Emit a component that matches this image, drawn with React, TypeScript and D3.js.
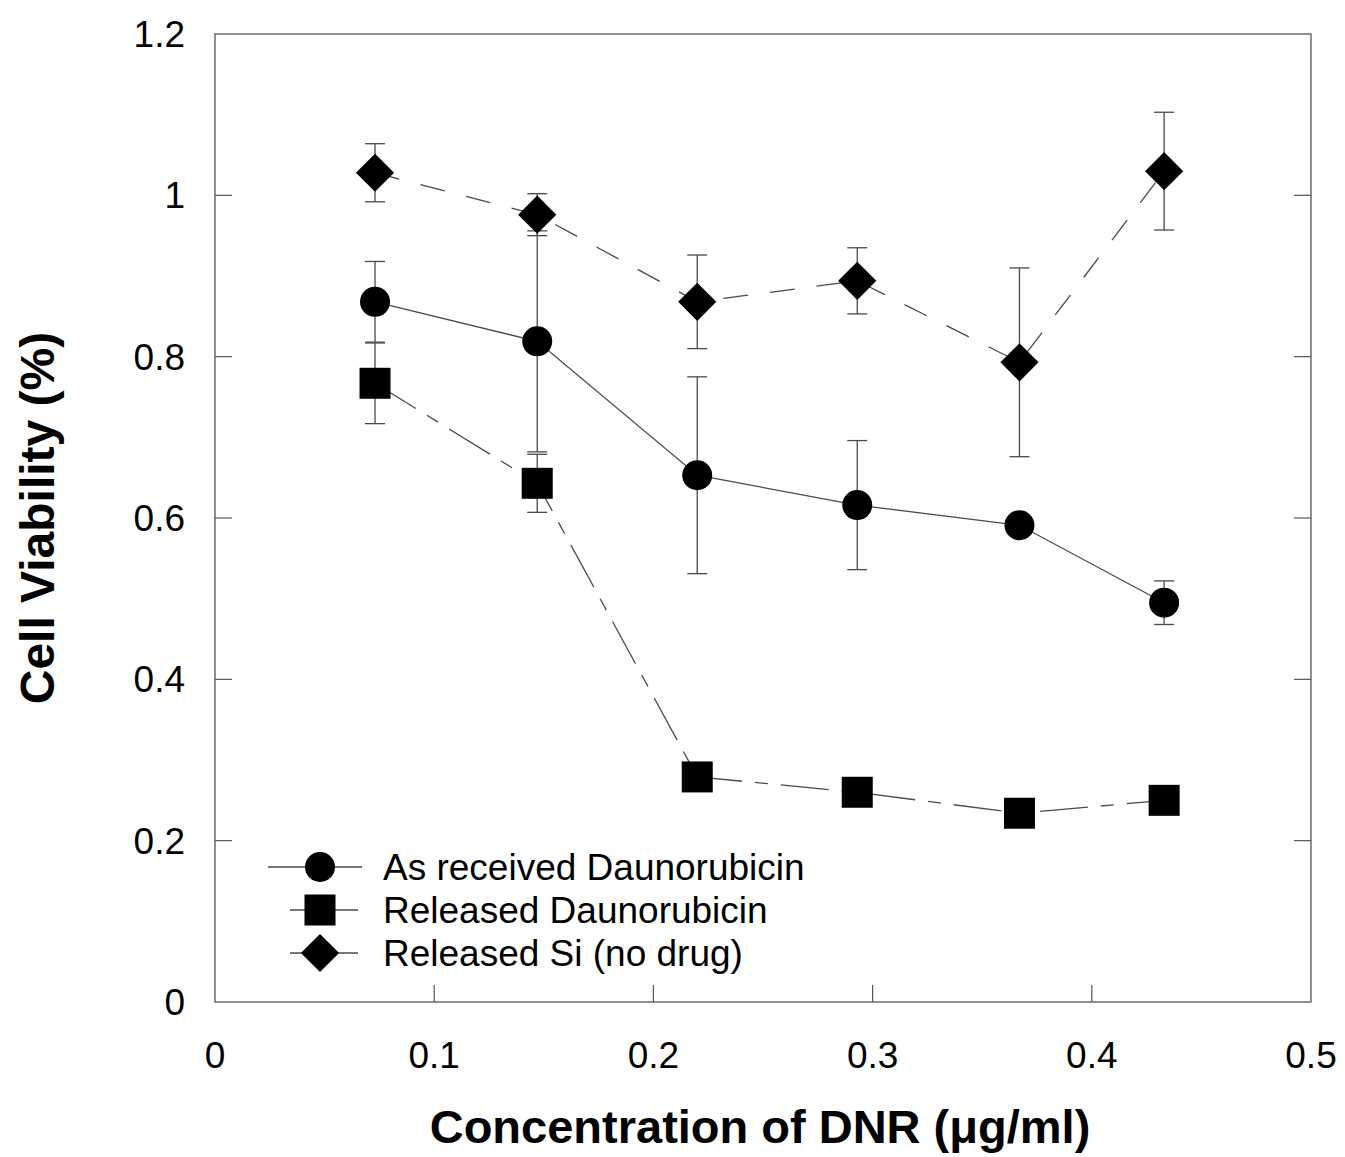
import * as d3 from "d3";
import { useEffect, useRef } from "react";

// concentrations (ug/ml)
const conc = [0.073, 0.147, 0.22, 0.293, 0.367, 0.433];

const asReceived = [0.868, 0.819, 0.653, 0.616, 0.591, 0.495];
const asReceivedErr = [0.05, 0.137, 0.122, 0.08, 0.01, 0.027];

const releasedDnr = [0.767, 0.643, 0.279, 0.26, 0.234, 0.25];
const releasedDnrErr = [0.05, 0.036, 0.01, 0.01, 0.01, 0.01];

const releasedSi = [1.028, 0.976, 0.868, 0.894, 0.793, 1.03];
const releasedSiErr = [0.036, 0.026, 0.058, 0.041, 0.117, 0.073];

const xTicks = [0, 0.1, 0.2, 0.3, 0.4, 0.5];
const yTicks = [0, 0.2, 0.4, 0.6, 0.8, 1, 1.2];

const legendLabels = ["As received Daunorubicin", "Released Daunorubicin", "Released Si (no drug)"];

function App() {
    const ref = useRef<SVGSVGElement | null>(null);

    useEffect(() => {
        document.body.style.margin = "0";

        const width = 1345,
            height = 1157;
        const margin = { left: 215, top: 34, right: 34, bottom: 155 };
        const w = width - margin.left - margin.right,
            h = height - margin.top - margin.bottom;

        const svg = d3.select(ref.current);
        svg.selectAll("*").remove();
        svg.attr("width", width).attr("height", height);

        const g = svg.append("g").attr("transform", `translate(${margin.left},${margin.top})`);

        const x = d3.scaleLinear().domain([0, 0.5]).range([0, w]);
        const y = d3.scaleLinear().domain([0, 1.2]).range([h, 0]);

        const font = "Liberation Sans, Arial, sans-serif";
        const lineColor = "#4a4a4a";
        const tickLen = 17;

        // frame
        g.append("rect")
            .attr("width", w)
            .attr("height", h)
            .attr("fill", "none")
            .attr("stroke", "#555")
            .attr("stroke-width", 1.3);

        // ticks: left, right, bottom (inward)
        yTicks.forEach((t) => {
            if (t === 0 || t === 1.2) return;
            g.append("line").attr("x1", 0).attr("x2", tickLen).attr("y1", y(t)).attr("y2", y(t))
                .attr("stroke", "#555").attr("stroke-width", 1.2);
            g.append("line").attr("x1", w - tickLen).attr("x2", w).attr("y1", y(t)).attr("y2", y(t))
                .attr("stroke", "#555").attr("stroke-width", 1.2);
        });
        xTicks.forEach((t) => {
            if (t === 0 || t === 0.5) return;
            g.append("line").attr("x1", x(t)).attr("x2", x(t)).attr("y1", h).attr("y2", h - tickLen)
                .attr("stroke", "#555").attr("stroke-width", 1.2);
        });

        // tick labels
        g.selectAll(".ylab")
            .data(yTicks)
            .join("text")
            .attr("x", -30)
            .attr("y", (d) => y(d))
            .attr("dy", "0.35em")
            .attr("text-anchor", "end")
            .style("font-family", font)
            .style("font-size", "37px")
            .text((d) => d3.format("")(d));

        g.selectAll(".xlab")
            .data(xTicks)
            .join("text")
            .attr("x", (d) => x(d))
            .attr("y", h + 53)
            .attr("dy", "0.35em")
            .attr("text-anchor", "middle")
            .style("font-family", font)
            .style("font-size", "37px")
            .text((d) => d3.format("")(d));

        // axis titles
        svg.append("text")
            .attr("x", 760)
            .attr("y", 1127)
            .attr("dy", "0.35em")
            .attr("text-anchor", "middle")
            .style("font-family", font)
            .style("font-size", "47px")
            .style("font-weight", "bold")
            .text("Concentration of DNR (\u03bcg/ml)");

        svg.append("text")
            .attr("transform", "translate(37,518) rotate(-90)")
            .attr("dy", "0.35em")
            .attr("text-anchor", "middle")
            .style("font-family", font)
            .style("font-size", "48px")
            .style("font-weight", "bold")
            .text("Cell Viability (%)");

        const series = [
            { vals: asReceived, err: asReceivedErr, dash: null, shape: d3.symbolCircle, size: 15 * 15 * Math.PI, rot: 0 },
            { vals: releasedDnr, err: releasedDnrErr, dash: "48,13,13,13", shape: d3.symbolSquare, size: 31 * 31, rot: 0 },
            { vals: releasedSi, err: releasedSiErr, dash: "25,22", shape: d3.symbolSquare, size: 27 * 27, rot: 45 },
        ];

        const line = d3.line<number>()
            .x((_, i) => x(conc[i]))
            .y((d) => y(d));

        // error bars
        series.forEach((s) => {
            const eg = g.append("g");
            s.vals.forEach((v, i) => {
                const cx = x(conc[i]);
                const top = y(v + s.err[i]),
                    bot = y(v - s.err[i]);
                eg.append("line").attr("x1", cx).attr("x2", cx).attr("y1", top).attr("y2", bot)
                    .attr("stroke", lineColor).attr("stroke-width", 1.3);
                [top, bot].forEach((yy) => {
                    eg.append("line").attr("x1", cx - 10).attr("x2", cx + 10).attr("y1", yy).attr("y2", yy)
                        .attr("stroke", lineColor).attr("stroke-width", 1.3);
                });
            });
        });

        // lines
        series.forEach((s) => {
            g.append("path")
                .datum(s.vals)
                .attr("d", line)
                .attr("fill", "none")
                .attr("stroke", lineColor)
                .attr("stroke-width", 1.3)
                .attr("stroke-dasharray", s.dash);
        });

        // markers
        series.forEach((s) => {
            g.selectAll(null)
                .data(s.vals)
                .join("path")
                .attr("d", d3.symbol().type(s.shape).size(s.size))
                .attr("transform", (d, i) => `translate(${x(conc[i])},${y(d)}) rotate(${s.rot})`)
                .attr("fill", "black");
        });

        // legend
        const legRows = [
            { y: 867, x1: 268, x2: 362, mx: 320 },
            { y: 910, x1: 290, x2: 358, mx: 320 },
            { y: 953, x1: 290, x2: 358, mx: 320 },
        ];
        legRows.forEach((r, i) => {
            svg.append("line").attr("x1", r.x1).attr("x2", r.x2).attr("y1", r.y).attr("y2", r.y)
                .attr("stroke", lineColor).attr("stroke-width", 1.3);
            svg.append("path")
                .attr("d", d3.symbol().type(series[i].shape).size(series[i].size))
                .attr("transform", `translate(${r.mx},${r.y}) rotate(${series[i].rot})`)
                .attr("fill", "black");
            svg.append("text")
                .attr("x", 383)
                .attr("y", r.y)
                .attr("dy", "0.35em")
                .style("font-family", font)
                .style("font-size", "37px")
                .text(legendLabels[i]);
        });
    }, []);

    return <svg ref={ref} style={{ display: "block" }}></svg>;
}

export default App;
